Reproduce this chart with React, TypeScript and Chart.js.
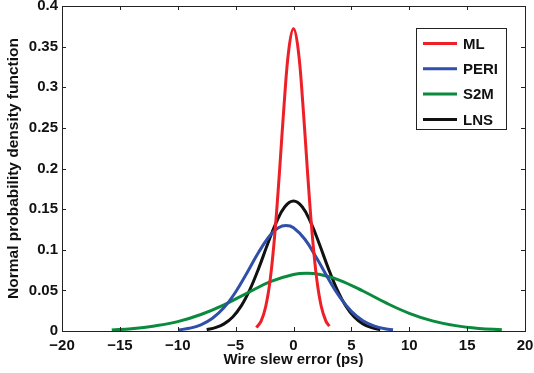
import React, { useEffect, useRef } from "react";
import { Chart, registerables } from "chart.js";

Chart.register(...registerables);

// ML
const mlX = [-3.2, -2.8, -2.4, -2.0, -1.6, -1.2, -0.8, -0.4, 0, 0.4, 0.8, 1.2, 1.6, 2.0, 2.4, 2.8, 3.1];
const mlY = [0.0042, 0.0121, 0.0301, 0.0648, 0.122, 0.198, 0.281, 0.347, 0.372, 0.347, 0.281, 0.198, 0.122, 0.0648, 0.0301, 0.0121, 0.006];

// PERI
const periX = [-9.9, -9, -8, -7, -6, -5, -4, -3, -2, -1.3, -0.65, 0, 1, 2, 3, 4, 5, 6, 7, 8, 8.6];
const periY = [0.0014, 0.0033, 0.0076, 0.0156, 0.0288, 0.048, 0.072, 0.0972, 0.1181, 0.1271, 0.1297, 0.1271, 0.1126, 0.0898, 0.0645, 0.0417, 0.0242, 0.0127, 0.006, 0.0025, 0.0014];

// S2M
const s2mX = [-15.7, -14, -12, -10, -8, -6, -4, -2, 0, 1.15, 2.3, 4, 6, 8, 10, 12, 14, 16, 18];
const s2mY = [0.0012, 0.0028, 0.0062, 0.0115, 0.0203, 0.0322, 0.0467, 0.0607, 0.0695, 0.0710, 0.0695, 0.0624, 0.0492, 0.0345, 0.0218, 0.0125, 0.0066, 0.0032, 0.0015];

// LNS
const lnsX = [-7.5, -6.75, -6, -5.25, -4.5, -3.75, -3, -2.25, -1.5, -0.75, 0, 0.75, 1.5, 2.25, 3, 3.75, 4.5, 5.25, 6, 6.75, 7.5];
const lnsY = [0.0017, 0.0041, 0.0088, 0.0173, 0.0312, 0.0515, 0.0774, 0.1064, 0.1334, 0.1529, 0.16, 0.1529, 0.1334, 0.1064, 0.0774, 0.0515, 0.0312, 0.0173, 0.0088, 0.0041, 0.0017];

const seriesNames = ["ML", "PERI", "S2M", "LNS"];
const seriesColors = ["#ed2028", "#2f4fa8", "#0a8a3c", "#111111"];

const xTicks = [-20, -15, -10, -5, 0, 5, 10, 15, 20];
const yTicks = [0, 0.05, 0.1, 0.15, 0.2, 0.25, 0.3, 0.35, 0.4];

const FONT = "'Liberation Sans', Arial, sans-serif";

const toPts = (xs: number[], ys: number[]) => xs.map((x, i) => ({ x, y: ys[i] }));

const boxPlugin = {
  id: "boxPlugin",
  afterDatasetsDraw(chart: any) {
    const { ctx, chartArea, scales } = chart;
    const { left, right, top, bottom } = chartArea;
    ctx.save();
    ctx.strokeStyle = "#222";
    ctx.lineWidth = 1;
    ctx.strokeRect(Math.round(left) + 0.5, Math.round(top) + 0.5, Math.round(right - left), Math.round(bottom - top));
    const tl = 4;
    ctx.beginPath();
    for (const v of xTicks) {
      const px = Math.round(scales.x.getPixelForValue(v)) + 0.5;
      ctx.moveTo(px, bottom);
      ctx.lineTo(px, bottom - tl);
      ctx.moveTo(px, top);
      ctx.lineTo(px, top + tl);
    }
    for (const v of yTicks) {
      const py = Math.round(scales.y.getPixelForValue(v)) + 0.5;
      ctx.moveTo(left, py);
      ctx.lineTo(left + tl, py);
      ctx.moveTo(right, py);
      ctx.lineTo(right - tl, py);
    }
    ctx.stroke();

    // legend
    const lx = 416.5, ly = 28.5, lw = 90, lh = 101;
    ctx.fillStyle = "#fff";
    ctx.fillRect(lx, ly, lw, lh);
    ctx.strokeStyle = "#222";
    ctx.strokeRect(lx, ly, lw, lh);
    ctx.font = `bold 15px ${FONT}`;
    ctx.textBaseline = "middle";
    ctx.textAlign = "left";
    chart.data.datasets.forEach((ds: any, i: number) => {
      const y = 43.5 + i * 25.3;
      ctx.strokeStyle = ds.borderColor;
      ctx.lineWidth = 3;
      ctx.beginPath();
      ctx.moveTo(423, y);
      ctx.lineTo(457, y);
      ctx.stroke();
      ctx.fillStyle = "#111";
      ctx.fillText(ds.label, 463, y + 1);
    });
    ctx.restore();
  },
};

export default function App() {
  const ref = useRef<HTMLCanvasElement>(null);
  useEffect(() => {
    document.body.style.margin = "0";
    const data = [toPts(mlX, mlY), toPts(periX, periY), toPts(s2mX, s2mY), toPts(lnsX, lnsY)];
    const chart = new Chart(ref.current!, {
      type: "line",
      data: {
        datasets: data.map((d, i) => ({
          label: seriesNames[i],
          data: d,
          borderColor: seriesColors[i],
          backgroundColor: seriesColors[i],
          borderWidth: 3,
          pointRadius: 0,
          tension: 0.4,
          fill: false,
        })),
      },
      options: {
        animation: false,
        responsive: false,
        layout: { padding: { top: 6, right: 9, left: 0, bottom: 0 } },
        plugins: { legend: { display: false }, tooltip: { enabled: false } },
        scales: {
          x: {
            type: "linear",
            min: -20,
            max: 20,
            grid: { display: false, drawTicks: false },
            border: { display: false },
            afterBuildTicks: (s: any) => { s.ticks = xTicks.map((v) => ({ value: v })); },
            afterFit: (s: any) => { s.height = 42; s.paddingLeft = 0; s.paddingRight = 0; },
            ticks: {
              padding: 6,
              color: "#111",
              font: { family: FONT, size: 15, weight: "bold" },
              callback: (v: any) => (Number(v) < 0 ? "\u2212" + Math.abs(Number(v)) : String(v)),
            },
            title: {
              display: true,
              text: "Wire slew error (ps)",
              color: "#111",
              font: { family: FONT, size: 15, weight: "bold" },
              padding: { top: 0, bottom: 4 },
            },
          },
          y: {
            type: "linear",
            min: 0,
            max: 0.4,
            grid: { display: false, drawTicks: false },
            border: { display: false },
            afterBuildTicks: (s: any) => { s.ticks = yTicks.map((v) => ({ value: v })); },
            afterFit: (s: any) => { s.width = 62; s.paddingTop = 0; s.paddingBottom = 0; },
            ticks: {
              padding: 4,
              color: "#111",
              font: { family: FONT, size: 15, weight: "bold" },
              callback: (v: any) => String(Number(v)),
            },
            title: {
              display: true,
              text: "Normal probability density function",
              color: "#111",
              font: { family: FONT, size: 15.5, weight: "bold" },
              padding: { top: 4, bottom: 0 },
            },
          },
        },
      },
      plugins: [boxPlugin],
    });
    return () => chart.destroy();
  }, []);
  return (
    <div style={{ position: "absolute", left: 0, top: 0, width: 534, height: 373, background: "#fff" }}>
      <canvas ref={ref} width={534} height={373} />
    </div>
  );
}
